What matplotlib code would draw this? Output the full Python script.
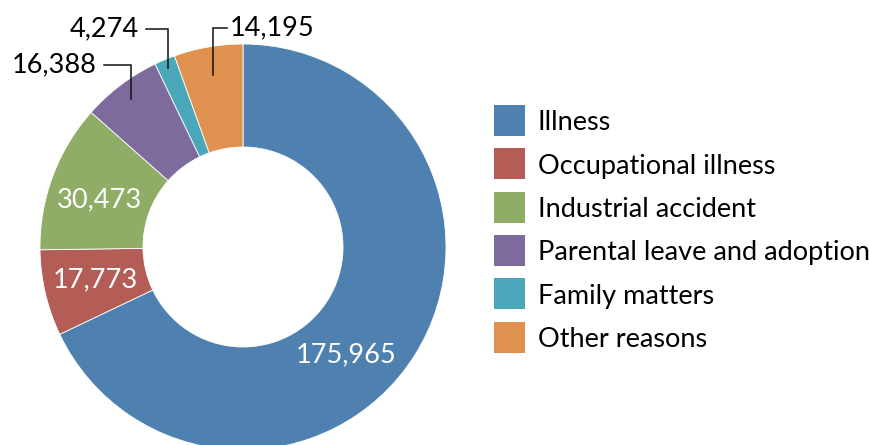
import matplotlib.pyplot as plt
import numpy as np
from matplotlib.patches import Rectangle

# Data
categories = ['Illness', 'Occupational illness', 'Industrial accident',
              'Parental leave and adoption', 'Family matters', 'Other reasons']
values = [175965, 17773, 30473, 16388, 4274, 14195]
colors = ['#4f81b0', '#b45c56', '#8fad66', '#7d6b9e', '#4aa7ba', '#e0914f']

plt.rcParams['font.family'] = ['Lato', 'DejaVu Sans']

W, H = 870, 445
fig = plt.figure(figsize=(W / 100, H / 100), dpi=100)
ax = fig.add_axes([0, 0, 1, 1])

cx, cy = 243, H - 247   # donut centre in pixel coords (y up)
R = 203

wedges, _ = ax.pie(values, colors=colors, startangle=90, counterclock=False,
                   radius=R, center=(cx, cy),
                   wedgeprops=dict(width=103, edgecolor='white', linewidth=0.6))

ax.set_xlim(0, W)
ax.set_ylim(0, H)
ax.set_aspect('equal')
ax.axis('off')

fs = 19.5

# labels inside the ring
inside = {0: (346, 355), 1: (95, 280), 2: (99, 200)}
for i, (x, y) in inside.items():
    ax.text(x, H - y, f'{values[i]:,}', ha='center', va='center',
            fontsize=fs, color='white')

# labels outside with leader lines: (index, radius of anchor, text y, line x-start)
outside = [(3, 186, 65, 104, 'right'), (4, 194, 29, 146, 'right'), (5, 175, 28, 227, 'left')]
total = sum(values)
cum = np.cumsum([0] + values)
for i, r, ty, lx, ha in outside:
    frac = (cum[i] + values[i] / 2) / total
    ang = np.deg2rad(90 - 360 * frac)
    ax_, ay = cx + r * np.cos(ang), cy + r * np.sin(ang)
    ax.plot([ax_, ax_, lx], [ay, H - ty, H - ty], color='#111111', lw=1.1,
            solid_joinstyle='miter')
    tx = lx - 7 if ha == 'right' else lx + 3
    ax.text(tx, H - ty, f'{values[i]:,}', ha=ha, va='center', fontsize=fs,
            color='black')

# legend
for k, (name, c) in enumerate(zip(categories, colors)):
    y0 = 105 + k * 43.3
    ax.add_patch(Rectangle((494, H - y0 - 31), 31, 31, facecolor=c, edgecolor='none'))
    ax.text(538, H - y0 - 18, name, ha='left', va='center', fontsize=fs,
            color='black')

fig.savefig('out.png', dpi=100)
